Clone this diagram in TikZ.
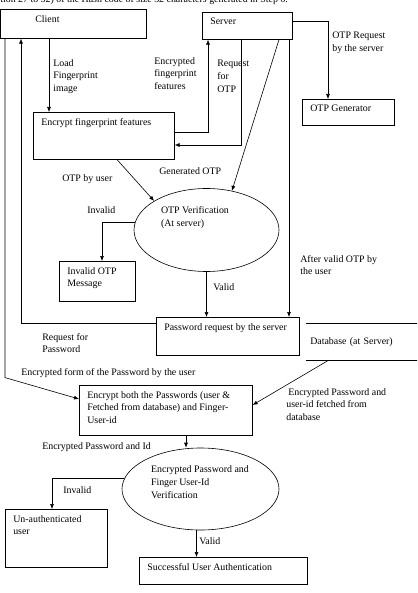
\documentclass[tikz,border=0pt]{standalone}
\usepackage{fontspec}
\setmainfont{Liberation Serif}
\usetikzlibrary{shapes.geometric,arrows.meta}
\newcommand{\boxtext}[3]{\parbox[t][#2][t]{#1}{\raggedright #3}}

\begin{document}
\begin{tikzpicture}
  [x=1pt,y=-1pt,line width=.6pt,
   every node/.style={font=\fontsize{9.9}{12.7}\selectfont},
   box/.style={draw,anchor=north west,inner xsep=8pt,inner ysep=6pt},
   oval/.style={draw,ellipse,inner sep=0pt},
   lbl/.style={anchor=north west,align=left,inner sep=0pt},
   arr/.style={-{Latex[length=5pt,width=4pt]}}]
  \useasboundingbox (0,0) rectangle (417,593);
  \clip (0,0) rectangle (417,593);

  \node[anchor=base west,inner sep=0pt] (head) at (0,2.5) {tion 27 to 32) of the Hash code of size 32 characters generated in Step 6.};

  \node[box] (client) at (0,9) {\boxtext{130pt}{17pt}{\hspace*{27pt}Client}};
  \node[box] (server) at (202,12) {\boxtext{74pt}{15pt}{Server}};
  \node[box] (otpgen) at (302,99) {\boxtext{76pt}{14pt}{OTP Generator}};
  \node[box] (encfp) at (33,112) {\boxtext{125pt}{35pt}{Encrypt fingerprint features}};
  \node[oval,minimum width=145pt,minimum height=83pt] (otpver) at (206.5,230) {\boxtext{91pt}{46pt}{OTP Verification\\(At server)}};
  \node[box] (invotp) at (59,261) {\boxtext{60pt}{28pt}{Invalid OTP\\Message}};
  \node[box] (pwreq) at (156,317) {\boxtext{127pt}{26pt}{Password request by the server}};
  \node[text width=103pt,align=left,inner xsep=4pt,minimum height=37pt,anchor=north west] (db) at (306,323) {Database (at Server)};
  \node[box] (encboth) at (79,385) {\boxtext{157pt}{38pt}{Encrypt both the Passwords (user \&\\Fetched from database) and Finger-\\User-id}};
  \node[oval,minimum width=157pt,minimum height=82pt] (pwver) at (200.5,489) {\boxtext{99pt}{46pt}{Encrypted Password and\\Finger User-Id\\Verification}};
  \node[box] (unauth) at (5,509) {\boxtext{86pt}{46pt}{Un-authenticated\\user}};
  \node[box] (success) at (139,557) {\boxtext{152pt}{15pt}{Successful User Authentication}};
  \draw (db.north west) -- (db.north east) (db.south west) -- (db.south east);

  \node[lbl] (lload) at (53,59) {Load\\Fingerprint\\image};
  \node[lbl] (lencfeat) at (154,57) {Encrypted\\fingerprint\\features};
  \node[lbl] (lreqotp) at (217,60) {Request\\for\\OTP};
  \node[lbl] (lotpreq) at (332,32) {OTP Request\\by the server};
  \node[lbl] (lgenotp) at (159,167) {Generated OTP};
  \node[lbl] (lotpuser) at (62,174) {OTP by user};
  \node[lbl] (linv1) at (87,206) {Invalid};
  \node[lbl] (lafter) at (300,255) {After valid OTP by\\the user};
  \node[lbl] (lval1) at (213,283) {Valid};
  \node[lbl] (lreqpw) at (42,333) {Request for\\Password};
  \node[lbl] (lencform) at (21,368) {Encrypted form of the Password by the user};
  \node[lbl] (lencdb) at (286,388) {\hspace*{2pt}Encrypted Password and\\user-id fetched from\\database};
  \node[lbl] (lencid) at (42,442) {Encrypted Password and Id};
  \node[lbl] (linv2) at (63,486) {Invalid};
  \node[lbl] (lval2) at (199,537) {Valid};

  \draw[arr] ([xshift=49pt]client.south west) coordinate (c1) -- (c1 |- encfp.north);
  \draw[arr] ([yshift=-9pt]server.north east) -| ([xshift=26pt]otpgen.north west);
  \draw[arr] ([yshift=-20pt]encfp.north east) -| ([xshift=6pt]server.south west);
  \draw[arr] ([xshift=39pt]server.south west) |- ([yshift=-33pt]encfp.north east);
  \draw[arr] ([xshift=77pt]server.south west) -- (otpver.57);
  \draw[arr] ([xshift=87pt]server.south west) coordinate (s4) -- (s4 |- pwreq.north);
  \draw[arr] ([xshift=84pt]encfp.south west) -- (otpver.151);
  \draw[arr] (otpver.174) -| ([xshift=43pt]invotp.north west);
  \draw[arr] (otpver.south) -- (otpver.south |- pwreq.north);
  \draw[arr] ([yshift=-6pt]pwreq.north west) -| ([xshift=21pt]client.south west);
  \draw[arr] ([xshift=5pt]client.south west) -- ++(0,339) -- ([yshift=-14pt]encboth.north west);
  \draw[arr] ([xshift=22pt]db.south west) -- ([yshift=-20pt]encboth.north east);
  \draw[arr] ([xshift=107pt]encboth.south west) coordinate (e1) -- (e1 |- pwver.north);
  \draw[arr] (pwver.172) -| ([xshift=47pt]unauth.north west);
  \draw[arr] ([xshift=-4pt]pwver.south) coordinate (p1) -- (p1 |- success.north);

\end{tikzpicture}
\end{document}
